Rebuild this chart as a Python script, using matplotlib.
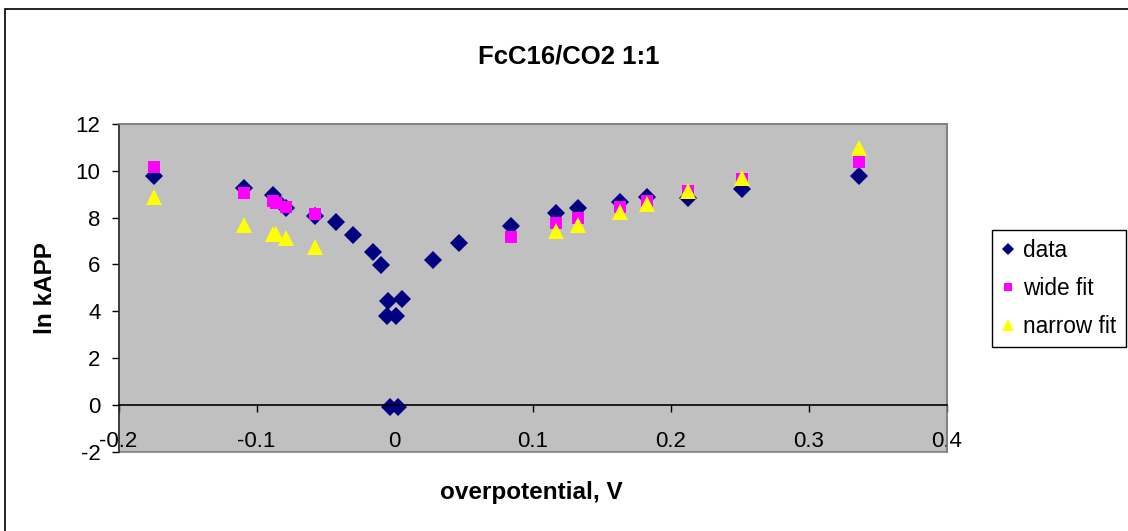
import matplotlib.pyplot as plt
from matplotlib.patches import Rectangle

plt.rcParams['font.family'] = ['Liberation Sans', 'DejaVu Sans']
plt.rcParams['axes.unicode_minus'] = False

# data
data_x = [-0.174, -0.109, -0.0883, -0.0861, -0.0788, -0.058, -0.0424, -0.0299, -0.0154, -0.0098,
          -0.0045, 0.0052, -0.0057, 0.0011, -0.0033, 0.0028, 0.0281, 0.0470, 0.0844, 0.1170,
          0.1332, 0.1634, 0.1832, 0.2129, 0.2520, 0.3368]
data_y = [9.76, 9.25, 8.96, 8.75, 8.43, 8.08, 7.79, 7.25, 6.51, 5.97,
          4.44, 4.52, 3.80, 3.80, -0.1, -0.1, 6.18, 6.92, 7.65, 8.18,
          8.39, 8.68, 8.86, 8.82, 9.20, 9.77]

wide_x = [-0.174, -0.109, -0.0883, -0.0861, -0.0788, -0.058, 0.0844, 0.117, 0.1332, 0.1634,
          0.1832, 0.2129, 0.252, 0.3368]
wide_y = [10.15, 9.03, 8.72, 8.63, 8.46, 8.15, 7.18, 7.75, 7.97, 8.46,
          8.71, 9.13, 9.63, 10.38]

narrow_x = [-0.174, -0.109, -0.0883, -0.0861, -0.0788, -0.058, 0.117, 0.1332, 0.1634,
            0.1832, 0.2129, 0.252, 0.3368]
narrow_y = [8.89, 7.68, 7.29, 7.29, 7.11, 6.75, 7.44, 7.68, 8.25,
            8.56, 9.13, 9.68, 10.96]

fig = plt.figure(figsize=(11.28, 5.31), dpi=100)
ax = fig.add_axes([0.1051, 0.1497, 0.8391 - 0.1051, 0.7665 - 0.1497])

ax.set_facecolor('#c0c0c0')
ax.patch.set_edgecolor('#808080')
ax.patch.set_linewidth(1.2)

ax.plot(data_x, data_y, 'D', color='#000080', ms=8.8, mew=0, label='data', clip_on=False)
ax.plot(wide_x, wide_y, 's', color='#ff00ff', ms=8.8, mew=0, label='wide fit', clip_on=False)
ax.plot(narrow_x, narrow_y, '^', color='#ffff00', ms=11, mew=0, label='narrow fit', clip_on=False)

ax.set_xlim(-0.2, 0.4)
ax.set_ylim(-2, 12)
ax.set_xticks([-0.2, -0.1, 0, 0.1, 0.2, 0.3, 0.4])
ax.set_xticklabels(['-0.2', '-0.1', '0', '0.1', '0.2', '0.3', '0.4'])
ax.set_yticks(range(-2, 13, 2))

# x axis crosses at y = 0 like the original
ax.spines['bottom'].set_position(('data', 0))
ax.spines['bottom'].set_color('black')
ax.spines['left'].set_color('#303030')
ax.spines['top'].set_color('#808080')
ax.spines['right'].set_color('#808080')
for s in ax.spines.values():
    s.set_linewidth(1.2)

ax.tick_params(axis='x', direction='out', length=5, width=1, pad=14, labelsize=16, colors='black')
ax.tick_params(axis='y', direction='out', length=5, width=1, pad=8, labelsize=16)

fig.text(569 / 1128, 1 - 57 / 531, 'FcC16/CO2 1:1', ha='center', va='center', fontsize=18.5, fontweight='bold')
fig.text(45 / 1128, 1 - 288 / 531, 'ln kAPP', ha='center', va='center', rotation=90,
         fontsize=17.5, fontweight='bold')
fig.text(531.5 / 1128, 1 - 493 / 531, 'overpotential, V', ha='center', va='center',
         fontsize=17.5, fontweight='bold')

leg = fig.legend(loc='upper left', bbox_to_anchor=(991.7 / 1128, 1 - 230 / 531), borderaxespad=0,
                 fontsize=16.3, numpoints=1, handlelength=0.6, handletextpad=0.4, borderpad=0.4,
                 labelspacing=0.66, fancybox=False, edgecolor='black', framealpha=1)
leg.get_frame().set_linewidth(1)
# legend markers are smaller than the plotted ones
for h, size in zip(leg.legend_handles, [6, 6, 9]):
    h.set_markersize(size)

# outer chart border
fig.patches.append(Rectangle((5 / 1128, -0.1), 1.2, 1 - 9 / 531 + 0.1, transform=fig.transFigure,
                             fill=False, edgecolor='black', linewidth=1.2))

fig.savefig('out.png', dpi=100)
